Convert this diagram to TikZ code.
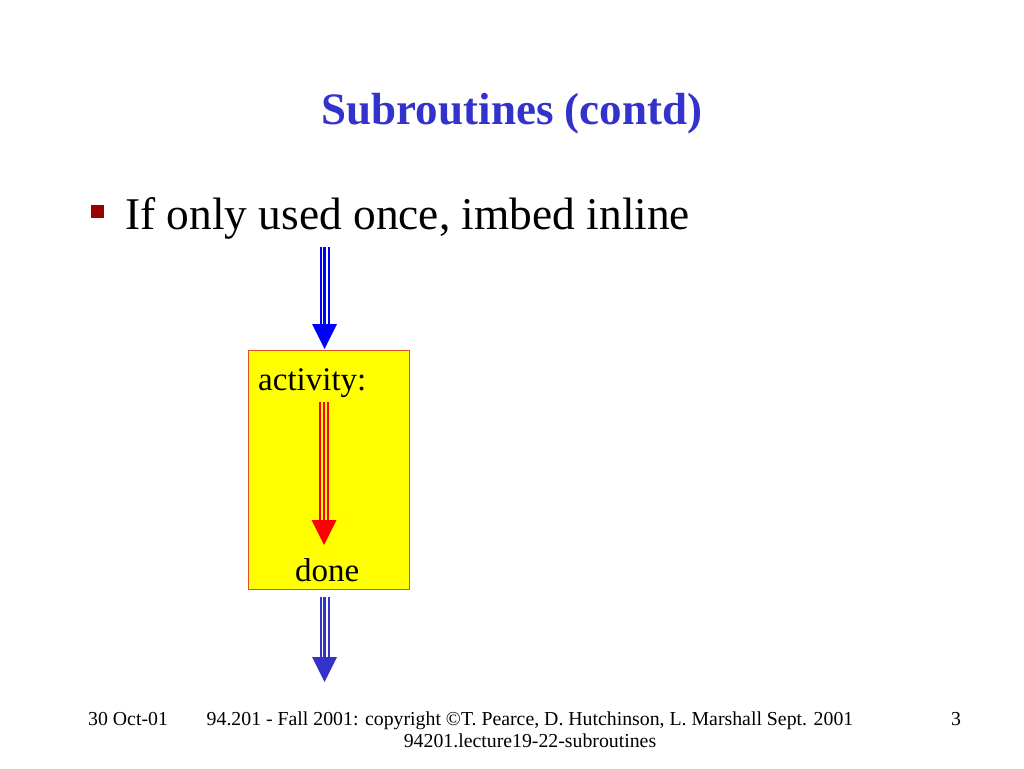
\documentclass[tikz,border=0pt]{standalone}
\usepackage{fontspec}
\setmainfont{Liberation Serif}
\usetikzlibrary{calc}
\definecolor{titleblue}{RGB}{51,51,204}
\definecolor{bulletred}{RGB}{153,0,0}
\definecolor{boxyellow}{RGB}{255,255,0}
\definecolor{boxedge}{RGB}{224,80,32}
\definecolor{arrowblue}{RGB}{0,0,255}
\definecolor{arrowbluedark}{RGB}{51,51,204}
\definecolor{arrowred}{RGB}{255,0,0}
\newcommand{\triplearrow}[4]{%
  \draw[line width=10pt,#3] (#1) -- ($(#2)+(0,-24)$);
  \draw[line width=6pt,#4] (#1) -- ($(#2)+(0,-24)$);
  \draw[line width=2.2pt,#3] (#1) -- ($(#2)+(0,-24)$);
  \fill[#3] ($(#2)+(-12.5,-25)$) -- ($(#2)+(12.5,-25)$) -- (#2) -- cycle;
}
\tikzset{
  titletext/.style={anchor=base, text=titleblue, font=\fontsize{45}{45}\selectfont\bfseries},
  bullettext/.style={anchor=base west, font=\fontsize{45.4}{46}\selectfont},
  boxtext/.style={anchor=base west, font=\fontsize{33}{33}\selectfont},
  footertext/.style={font=\fontsize{19.8}{22}\selectfont, inner sep=0pt},
  activitybox/.style={draw=boxedge, fill=boxyellow, line width=1.6pt, minimum width=161pt, minimum height=239pt, inner sep=0pt, anchor=north west}
}
\begin{document}
\begin{tikzpicture}[x=1pt,y=-1pt]
\useasboundingbox[fill=white] (0,0) rectangle (1024,768);
\node[titletext] (title) at (512,124) {Subroutines (contd)};
\fill[bulletred] (90.5,205) rectangle (103.5,218);
\node[bullettext, inner sep=0pt] (bullet) at (125,229) {If only used once, imbed inline};
\node[activitybox] (abox) at (247.5,349.5) {};
\node[boxtext, inner sep=0pt] (activity) at (258,390) {activity:};
\node[boxtext, inner sep=0pt] (done) at (295,581) {done};
\coordinate (inflow) at (324.5,247);
\coordinate (intip) at (324.5,349);
\coordinate (redstart) at (324,402);
\coordinate (redtip) at (324,545);
\coordinate (outstart) at (324.5,597);
\coordinate (outflow) at (324.5,682);
\triplearrow{inflow}{intip}{arrowblue}{white}
\triplearrow{redstart}{redtip}{arrowred}{boxyellow}
\triplearrow{outstart}{outflow}{arrowbluedark}{white}
\node[footertext, anchor=base west] (date) at (88,725) {30 Oct-01};
\node[footertext, anchor=base] (copy) at (530,725) {94.201 - Fall 2001: copyright ©T. Pearce, D. Hutchinson, L. Marshall Sept. 2001};
\node[footertext, anchor=base] (file) at (530,747) {94201.lecture19-22-subroutines};
\node[footertext, anchor=base west] (page) at (951,725) {3};
\end{tikzpicture}
\end{document}
